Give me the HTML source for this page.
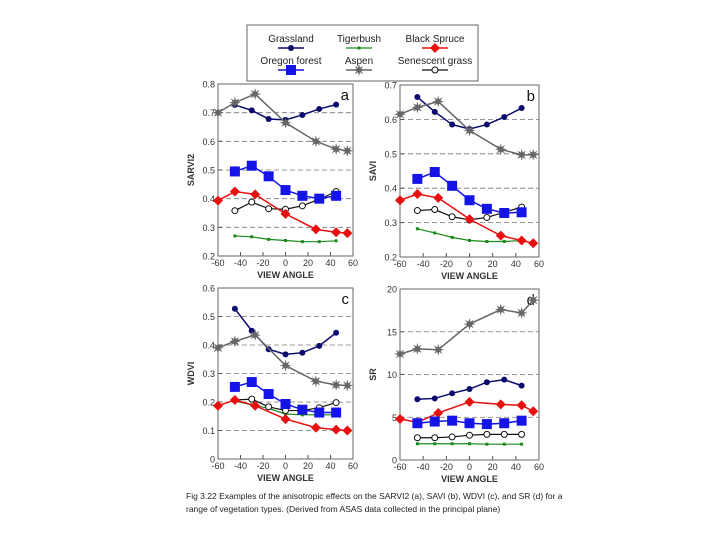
<!DOCTYPE html>
<html><head><meta charset="utf-8"><style>
body{margin:0;background:#fff;width:720px;height:540px;overflow:hidden;font-family:"Liberation Sans",sans-serif}
</style></head><body>
<svg id="fig" width="720" height="540" xmlns="http://www.w3.org/2000/svg" font-family="Liberation Sans, sans-serif">
<rect x="247" y="25" width="231" height="56" fill="#fff" stroke="#666"/>
<g id="legend"></g>
<g id="panels"></g>
<text x="186" y="499" font-size="8.5" fill="#222">Fig 3.22 Examples of the anisotropic effects on the SARVI2 (a), SAVI (b), WDVI (c), and SR (d) for a</text>
<text x="186" y="512" font-size="8.5" fill="#222">range of vegetation types.  (Derived from ASAS data collected in the principal plane)</text>
</svg>
<script>
const anglesA = [-45,-30,-15,0,15,30,45];
const anglesB = [-60,-45,-27,0,27,45,55];
const seriesNames = ["Grassland","Tigerbush","Black Spruce","Oregon forest","Aspen","Senescent grass"];
const sarviGrass=[.727,.708,.678,.675,.692,.713,.728];
const sarviTiger=[.27,.267,.258,.254,.25,.25,.253];
const sarviSpruce=[.393,.425,.415,.347,.293,.283,.28];
const sarviOregon=[.495,.515,.478,.43,.41,.40,.41];
const sarviAspen=[.70,.735,.765,.665,.60,.573,.567];
const sarviSen=[.358,.388,.365,.363,.375,.398,.425];
const saviGrass=[.665,.622,.585,.572,.585,.607,.633];
const saviTiger=[.282,.27,.257,.248,.245,.245,.248];
const saviSpruce=[.365,.383,.372,.31,.262,.248,.24];
const saviOregon=[.427,.447,.407,.365,.34,.328,.33];
const saviAspen=[.615,.635,.652,.568,.513,.497,.497];
const saviSen=[.335,.338,.317,.308,.315,.33,.345];
const wdviGrass=[.527,.45,.385,.367,.373,.397,.443];
const wdviTiger=[.203,.19,.178,.158,.155,.155,.155];
const wdviSpruce=[.187,.207,.187,.14,.11,.103,.1];
const wdviOregon=[.253,.27,.228,.193,.173,.163,.163];
const wdviAspen=[.39,.413,.435,.328,.273,.26,.258];
const wdviSen=[.207,.21,.183,.17,.17,.18,.198];
const srGrass=[7.1,7.2,7.8,8.3,9.1,9.4,8.7];
const srTiger=[1.9,1.9,1.9,1.9,1.85,1.85,1.85];
const srSpruce=[4.8,4.4,5.5,6.8,6.5,6.4,5.7];
const srOregon=[4.3,4.5,4.6,4.3,4.2,4.3,4.6];
const srAspen=[12.4,13,12.9,15.9,17.6,17.2,18.7];
const srSen=[2.6,2.6,2.7,2.9,3.0,3.0,3.0];
const xTicks=[-60,-40,-20,0,20,40,60];
const ticksA=[0.2,0.3,0.4,0.5,0.6,0.7,0.8];
const ticksB=[0.2,0.3,0.4,0.5,0.6,0.7];
const ticksC=[0,0.1,0.2,0.3,0.4,0.5,0.6];
const ticksD=[0,5,10,15,20];

const NS="http://www.w3.org/2000/svg";
function mk(tag,attrs,parent){const e=document.createElementNS(NS,tag);for(const k in attrs)e.setAttribute(k,attrs[k]);parent.appendChild(e);return e;}
const styles={
 grass:{c:"#0a0a6e",m:"dot",lw:1.5},
 tiger:{c:"#1a8a1a",m:"sq",lw:1.2},
 spruce:{c:"#e8100f",m:"dia",lw:1.5},
 oregon:{c:"#1414e6",m:"big",lw:1.5},
 aspen:{c:"#666",m:"star",lw:1.5},
 sen:{c:"#111",m:"circ",lw:1.2}
};
function marker(g,kind,x,y,c){
 let e;
 if(kind==="dot") e=mk("circle",{cx:x,cy:y,r:3,fill:c},g);
 else if(kind==="sq") e=mk("rect",{x:x-1.5,y:y-1.5,width:3,height:3,fill:c},g);
 else if(kind==="dia") e=mk("polygon",{points:`${x},${y-5} ${x+5},${y} ${x},${y+5} ${x-5},${y}`,fill:c},g);
 else if(kind==="big") e=mk("rect",{x:x-5,y:y-5,width:10,height:10,fill:c},g);
 else if(kind==="star"){let p=[];for(let i=0;i<16;i++){const r=i%2?2.5:6,a=i*Math.PI/8;p.push((x+r*Math.sin(a)).toFixed(1)+","+(y-r*Math.cos(a)).toFixed(1));}e=mk("polygon",{points:p.join(" "),fill:c},g);}
 else e=mk("circle",{cx:x,cy:y,r:3,fill:"#fff",stroke:c,"stroke-width":1},g);
 return e;
}
const panels=[
 {id:"a",L:218,R:353,T:84,B:256,min:.2,max:.8,ticks:ticksA,fmt:v=>v.toFixed(1),ylab:"SARVI2",
  data:{tiger:sarviTiger,sen:sarviSen,spruce:sarviSpruce,oregon:sarviOregon,grass:sarviGrass,aspen:sarviAspen}},
 {id:"b",L:400,R:539,T:85,B:257,min:.2,max:.7,ticks:ticksB,fmt:v=>v.toFixed(1),ylab:"SAVI",
  data:{tiger:saviTiger,sen:saviSen,spruce:saviSpruce,oregon:saviOregon,grass:saviGrass,aspen:saviAspen}},
 {id:"c",L:218,R:353,T:288,B:459,min:0,max:.6,ticks:ticksC,fmt:v=>v===0?"0":v.toFixed(1),ylab:"WDVI",
  data:{tiger:wdviTiger,sen:wdviSen,spruce:wdviSpruce,oregon:wdviOregon,grass:wdviGrass,aspen:wdviAspen}},
 {id:"d",L:400,R:539,T:289,B:460,min:0,max:20,ticks:ticksD,fmt:v=>String(v),ylab:"SR",
  data:{tiger:srTiger,sen:srSen,spruce:srSpruce,oregon:srOregon,grass:srGrass,aspen:srAspen}}
];
const root=document.getElementById("panels");
panels.forEach(p=>{
 const g=mk("g",{},root);
 
 
 const xs=v=>p.L+(v+60)/120*(p.R-p.L);
 const ys=v=>p.B-(v-p.min)/(p.max-p.min)*(p.B-p.T);
 p.ticks.forEach((t,i)=>{
  const y=ys(t);
  if(i>0&&i<p.ticks.length-1){const gl=mk("line",{x1:p.L,x2:p.R,y1:y,y2:y,stroke:"#777","stroke-dasharray":"5,3","stroke-width":0.8},g);
   }
  mk("line",{x1:p.L,x2:p.L+4,y1:y,y2:y,stroke:"#555"},g);
  const tl=mk("text",{x:p.L-3,y:y+3.5,"font-size":9,"text-anchor":"end",fill:"#333"},g);tl.textContent=p.fmt(t);
  
 });
 xTicks.forEach(t=>{const x=xs(t);mk("line",{x1:x,x2:x,y1:p.B,y2:p.B-4,stroke:"#555"},g);
  const tl=mk("text",{x:x,y:p.B+10,"font-size":9,"text-anchor":"middle",fill:"#333"},g);tl.textContent=t;
  });
 const fr=mk("rect",{x:p.L,y:p.T,width:p.R-p.L,height:p.B-p.T,fill:"none",stroke:"#666","stroke-width":1},g);
 
 const xl=mk("text",{x:(p.L+p.R)/2,y:p.B+22,"font-size":9,"font-weight":"bold","text-anchor":"middle",fill:"#333"},g);xl.textContent="VIEW ANGLE";
 
 const yl=mk("text",{x:0,y:0,"font-size":9,"font-weight":"bold","text-anchor":"middle",fill:"#333",transform:`translate(${p.L-24},${(p.T+p.B)/2}) rotate(-90)`},g);yl.textContent=p.ylab;
 
 const pl=mk("text",{x:p.R-4,y:p.T+16,"font-size":15,"text-anchor":"end",fill:"#111"},g);pl.textContent=p.id;
 
 for(const k in p.data){
  const st=styles[k];const vals=p.data[k];
  const ang=(k==="spruce"||k==="aspen")?anglesB:anglesA;
  const sg=mk("g",{},g);
  
  
  mk("polyline",{points:vals.map((v,i)=>xs(ang[i])+","+ys(v)).join(" "),fill:"none",stroke:st.c,"stroke-width":st.lw},sg);
  vals.forEach((v,i)=>{const m=marker(sg,st.m,xs(ang[i]),ys(v),st.c);
   });
 }
});
const lg=document.getElementById("legend");
const keys=["grass","tiger","spruce","oregon","aspen","sen"];
const cx=[291,359,435],ty=[42,64],my=[48,70];
keys.forEach((k,i)=>{
 const col=i%3,row=Math.floor(i/3);const st=styles[k];
 const eg=mk("g",{},lg);
 
 
 const t=mk("text",{x:cx[col],y:ty[row],"font-size":10,"text-anchor":"middle",fill:"#222"},eg);t.textContent=seriesNames[i];
 mk("line",{x1:cx[col]-13,x2:cx[col]+13,y1:my[row],y2:my[row],stroke:st.c,"stroke-width":st.lw},eg);
 marker(eg,st.m,cx[col],my[row],st.c);
});
</script>
</body></html>
